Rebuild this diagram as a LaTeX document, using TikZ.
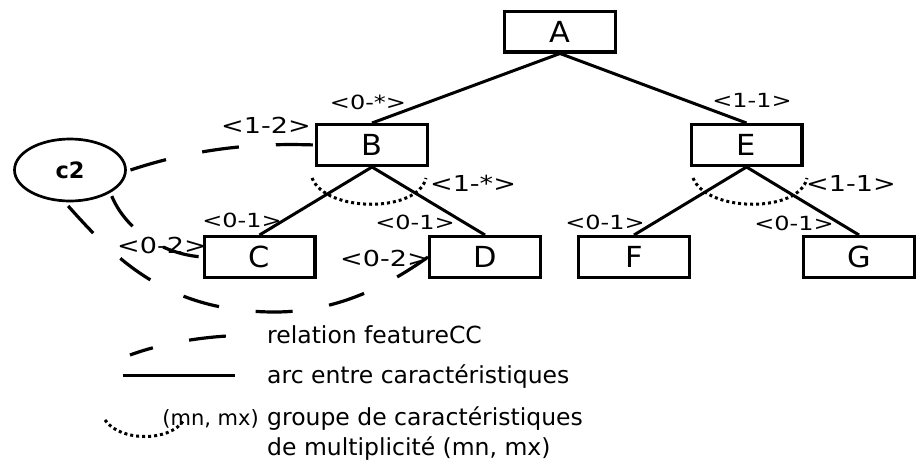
\documentclass[tikz,border=0pt]{standalone}
\usepackage{fontspec}
\setmainfont{DejaVu Sans}
\newfontfamily\widefont[FakeStretch=1.23]{DejaVu Sans}
\newfontfamily\boxfont[FakeStretch=1.05]{DejaVu Sans}
\usetikzlibrary{shapes.geometric}
\begin{document}
\begin{tikzpicture}[x=1pt,y=-1pt,
  feat/.style={draw, line width=3.3pt, minimum width=110.7pt, minimum height=40.7pt, inner sep=0pt, font=\boxfont\fontsize{29}{29}\selectfont},
  arcline/.style={line width=3pt},
  ccrel/.style={line width=3.2pt, dash pattern=on 37pt off 37pt},
  grp/.style={line width=3pt, dash pattern=on 3pt off 3pt},
  biglab/.style={inner sep=0pt, font=\widefont\fontsize{22}{22}\selectfont},
  smalllab/.style={inner sep=0pt, font=\widefont\fontsize{19.5}{19.5}\selectfont},
  legtext/.style={inner sep=0pt, anchor=base west, font=\fontsize{23.5}{23.5}\selectfont}
]
\useasboundingbox (0,0) rectangle (921,464);

% feature boxes
\node[feat] (A) at (560,31.5) {A};
\node[feat] (B) at (372,145) {B};
\node[feat] (E) at (746.5,145) {E};
\node[feat] (C) at (259.5,257) {C};
\node[feat] (D) at (485,257) {D};
\node[feat] (F) at (634,257) {F};
\node[feat] (G) at (859,257) {G};

% constraint ellipse
\node[draw, ellipse, line width=2.7pt, minimum width=111pt, minimum height=62pt,
      inner sep=0pt, outer sep=5pt, font=\bfseries\fontsize{22.5}{22.5}\selectfont] (c2) at (70,170) {c2};

% tree arcs
\draw[arcline] (A.south) -- (B.north);
\draw[arcline] (A.south) -- (E.north);
\draw[arcline] (B.south) -- (C.north);
\draw[arcline] (B.south) -- (D.north);
\draw[arcline] (E.south) -- (F.north);
\draw[arcline] (E.south) -- (G.north);

% group arcs
\draw[grp] (312,178) .. controls (326,213) and (418,213) .. (426,178);
\draw[grp] (693,178) .. controls (707,213) and (800,213) .. (807,178);

% featureCC relations
\coordinate (low) at (275,312);
\draw[ccrel] (c2.east) .. controls (200,147) and (260,143) .. (B.west);
\draw[ccrel] (c2.-32) .. controls (125,228) and (160,254) .. (C.west);
\draw[ccrel] (c2.-93) .. controls (114,257) and (165,312) .. (low)
                      .. controls (335,312) and (386,287) .. (D.west);

% cardinality labels
\node[smalllab] (lAB) at (368,102) {<0-*>};
\node[smalllab] (lAE) at (752,100) {<1-1>};
\node[biglab] (lc2B) at (266,125) {<1-2>};
\node[biglab] (lBg) at (473,183) {<1-*>};
\node[biglab] (lEg) at (851,183) {<1-1>};
\node[smalllab] (lBC) at (242,220) {<0-1>};
\node[smalllab] (lBD) at (415,222) {<0-1>};
\node[smalllab] (lEF) at (605,222) {<0-1>};
\node[smalllab] (lEG) at (794,223) {<0-1>};
\node[biglab] (lc2C) at (162,245) {<0-2>};
\node[biglab] (lc2D) at (385,258) {<0-2>};

% legend
\coordinate (k1a) at (130,355);
\coordinate (k1b) at (227,336);
\draw[ccrel, dash phase=13pt] (k1a) .. controls (160,344) and (195,338) .. (k1b);
\coordinate (k2a) at (123,375);
\coordinate (k2b) at (235,375);
\draw[arcline] (k2a) -- (k2b);
\coordinate (k3a) at (105,420);
\coordinate (k3b) at (184,420);
\draw[grp] (k3a) .. controls (120,442) and (170,442) .. (k3b);

\node[legtext] (t1) at (267,343) {relation featureCC};
\node[legtext] (t2) at (267,383) {arc entre caractéristiques};
\node[legtext] (t3) at (267,425) {groupe de caractéristiques};
\node[legtext] (t4) at (267,455) {de multiplicité (mn, mx)};
\node[inner sep=0pt, anchor=base east, font=\fontsize{21}{21}\selectfont] (t5) at (259,425) {(mn, mx)};
\end{tikzpicture}
\end{document}
